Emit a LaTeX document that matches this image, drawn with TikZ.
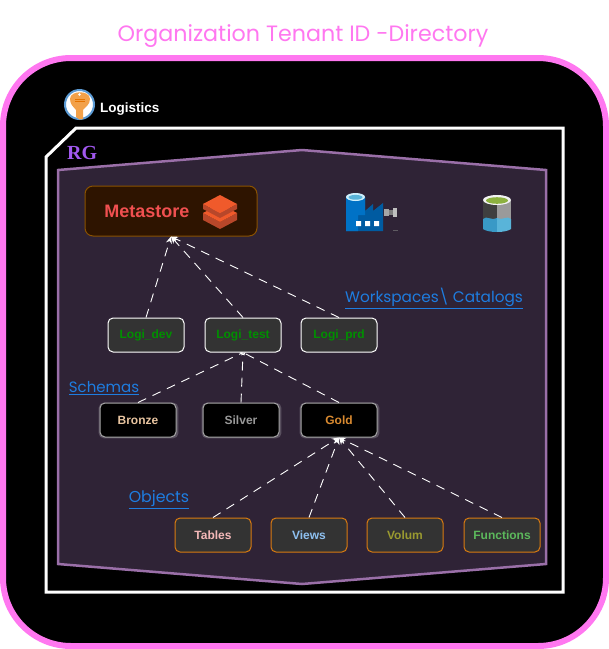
\documentclass[tikz,border=0pt]{standalone}
\usepackage{fontspec}
\setmainfont{Liberation Sans}
\newfontfamily\hand{Poppins}
\newfontfamily\rgfont{Liberation Serif}
\usetikzlibrary{arrows.meta,shadows}
\definecolor{pinkline}{HTML}{FF77F0}
\definecolor{panel}{HTML}{2F2336}
\definecolor{panelline}{HTML}{9A6FA8}
\definecolor{linkblue}{HTML}{1E7DE0}
\definecolor{metafill}{HTML}{2E1400}
\definecolor{metaline}{HTML}{8A5200}
\definecolor{metatext}{HTML}{F05050}
\definecolor{grayfill}{HTML}{333333}
\definecolor{objline}{HTML}{D97B10}
\definecolor{keyring}{HTML}{5B9BD5}
\definecolor{keybody}{HTML}{F2A14A}
\definecolor{rgviolet}{HTML}{A259F0}
\definecolor{catgreen}{HTML}{009000}
\definecolor{layerhi}{HTML}{F05A2B}
\definecolor{layerlo}{HTML}{B8472A}
\definecolor{facleft}{HTML}{0072C6}
\definecolor{facright}{HTML}{005BA1}
\definecolor{faccap}{HTML}{59B4D9}
\definecolor{stdark}{HTML}{3F3F3F}
\definecolor{stgray}{HTML}{9A9A9A}
\definecolor{stblue}{HTML}{3999C6}
\definecolor{stlight}{HTML}{59B4D9}
\definecolor{stgreen}{HTML}{8CB13F}
\tikzset{
  x=1pt,y=-1pt,
  basebox/.style={rounded corners=5pt,minimum width=76pt,minimum height=34pt,inner sep=0pt,font=\bfseries\fontsize{12}{14}\selectfont},
  catbox/.style={basebox,draw=white,line width=1pt,fill=grayfill,text=catgreen},
  schemabox/.style={basebox,draw=white!65!black,line width=1pt,fill=black,
    drop shadow={shadow xshift=.5pt,shadow yshift=-.5pt,shadow scale=1.05,fill=white,opacity=.2}},
  objbox/.style={basebox,draw=objline,line width=1pt,fill=grayfill},
  link/.style={dash pattern=on 9pt off 7pt,draw=white,line width=.9pt,-{Stealth[length=7pt,width=6pt]}},
  linksmall/.style={link,-{Stealth[length=3pt,width=3pt]}},
  handlink/.style={text=linkblue,inner sep=0pt},
}
\begin{document}
\begin{tikzpicture}
\useasboundingbox (0,0) rectangle (609,649);
\fill[white] (0,0) rectangle (609,649);
% title
\node[text=pinkline,font=\hand\fontsize{22.2}{26}\selectfont,inner sep=0pt] (title) at (303,36) {Organization Tenant ID -Directory};
% outer
\draw[pinkline,line width=6pt,fill=black,rounded corners=68pt] (3,58) rectangle (606,646);
% white container
\draw[white,line width=3pt,line join=miter] (46,157) -- (76,128) -- (563,128) -- (563,592) -- (46,592) -- cycle;
% panel
\draw[panelline,line width=2.5pt,fill=panel] (58,170) -- (302,150) -- (546,170) -- (546,564) -- (302,584) -- (58,564) -- cycle;
% key icon
\draw[draw=keyring,line width=2pt,fill=white] (79.5,104.5) circle (14.5);
\fill[keybody]
  (70,99) .. controls (70,90) and (90,90) .. (90,99)
  .. controls (90,105) and (85,107) .. (83,110) -- (83,119) -- (79.5,119.5) -- (76,117) -- (76,110)
  .. controls (74,107) and (70,105) .. (70,99) -- cycle;
\fill[white] (79.5,94.5) circle (1.4);
\draw[orange!90!black,line width=.5pt] (75,99) -- (85,99) (75,101.5) -- (85,101.5);
\node[text=white,font=\bfseries\fontsize{13.5}{16}\selectfont,anchor=west,inner sep=0pt] (logi) at (100,109.5) {Logistics};
\node[text=rgviolet,font=\rgfont\bfseries\fontsize{20}{22}\selectfont,anchor=west,inner sep=0pt] (rg) at (67,153) {RG};
% metastore
\node[basebox,draw=metaline,line width=1pt,fill=metafill,minimum width=172pt,minimum height=50pt,rounded corners=8pt] (meta) at (171,211) {};
\node[text=metatext,font=\bfseries\fontsize{18}{20}\selectfont,inner sep=0pt] (metatxt) at (147,211) {Metastore};
% layers icon
\fill[layerlo] (203,213) -- (220,222) -- (237,213) -- (237,220) -- (220,229) -- (203,220) -- cycle;
\fill[layerhi] (203,213) -- (220,204) -- (237,213) -- (220,222) -- cycle;
\fill[layerlo] (203,204) -- (220,213) -- (237,204) -- (237,209) -- (220,218) -- (203,209) -- cycle;
\fill[layerhi] (203,204) -- (220,195) -- (237,204) -- (220,213) -- cycle;
% factory icon
\fill[facright] (346,197) -- (365,197) -- (365,211) -- (373,204) -- (373,211) -- (383,203) -- (383,231) -- (346,231) -- cycle;
\fill[facleft] (346,197) rectangle (365,215) (346,215) rectangle (358,231);
\fill[white!80!cyan] (355.5,197) ellipse (9.5 and 4);
\fill[faccap] (355.5,197.3) ellipse (7 and 2.4);
\fill[white] (356,221) rectangle (361,226) (365,221) rectangle (370,226) (374,221) rectangle (379,226);
\fill[gray!70!white] (384,209) rectangle (389,216);
\fill[gray] (389,210) rectangle (393,215);
\fill[gray!50!white] (393,208) rectangle (397,217);
\draw[gray!60!panel,line width=.6pt] (393,230.5) -- (398,230.5);
% storage icon
\fill[stdark] (483,200) rectangle (497,225);
\fill[stgray] (497,200) rectangle (511,225);
\fill[stblue] (483,219) .. controls (487,215) and (490,221) .. (497,218) -- (497,232) .. controls (491,232) and (486,231) .. (483,229) -- cycle;
\fill[stlight] (497,218) .. controls (503,221) and (507,215) .. (511,219) -- (511,229) .. controls (508,231) and (503,232) .. (497,232) -- cycle;
\fill[white!90!gray] (497,200) ellipse (14 and 5);
\fill[stgreen] (497,200.5) ellipse (11 and 3.3);
% hand labels
\node[handlink,font=\hand\fontsize{15.3}{18}\selectfont] (wk) at (434,298.5) {\underline{Workspaces\textbackslash\ Catalogs}};
\node[handlink,font=\hand\fontsize{15}{18}\selectfont] (sc) at (104,388) {\underline{Schemas}};
\node[handlink,font=\hand\fontsize{15.8}{18}\selectfont] (ob) at (159,500) {\underline{Objects}};
% nodes
\node[catbox] (dev) at (146,335) {Logi\_dev};
\node[catbox] (test) at (243,335) {Logi\_test};
\node[catbox] (prd) at (339,335) {Logi\_prd};
\node[schemabox,text={rgb,255:red,232;green,196;blue,160}] (bronze) at (138,420) {Bronze};
\node[schemabox,text={rgb,255:red,153;green,153;blue,153}] (silver) at (241,420) {Silver};
\node[schemabox,text={rgb,255:red,217;green,138;blue,48}] (gold) at (339,420) {Gold};
\node[objbox,text={rgb,255:red,244;green,184;blue,184}] (tables) at (213,535) {Tables};
\node[objbox,text={rgb,255:red,142;green,192;blue,240}] (views) at (309,535) {Views};
\node[objbox,text={rgb,255:red,154;green,154;blue,48}] (volum) at (405,535) {Volum};
\node[objbox,text={rgb,255:red,92;green,184;blue,92}] (funcs) at (502,535) {Functions};
% connectors
\draw[link] (dev.north) -- (meta.south);
\draw[link] (test.north) -- (meta.south);
\draw[link] (prd.north) -- (meta.south);
\draw[linksmall] (bronze.north) -- (test.south);
\draw[linksmall] (silver.north) -- (test.south);
\draw[linksmall] (gold.north) -- (test.south);
\draw[link] (tables.north) -- (gold.south);
\draw[link] (views.north) -- (gold.south);
\draw[link] (volum.north) -- (gold.south);
\draw[link] (funcs.north) -- (gold.south);
\end{tikzpicture}
\end{document}
